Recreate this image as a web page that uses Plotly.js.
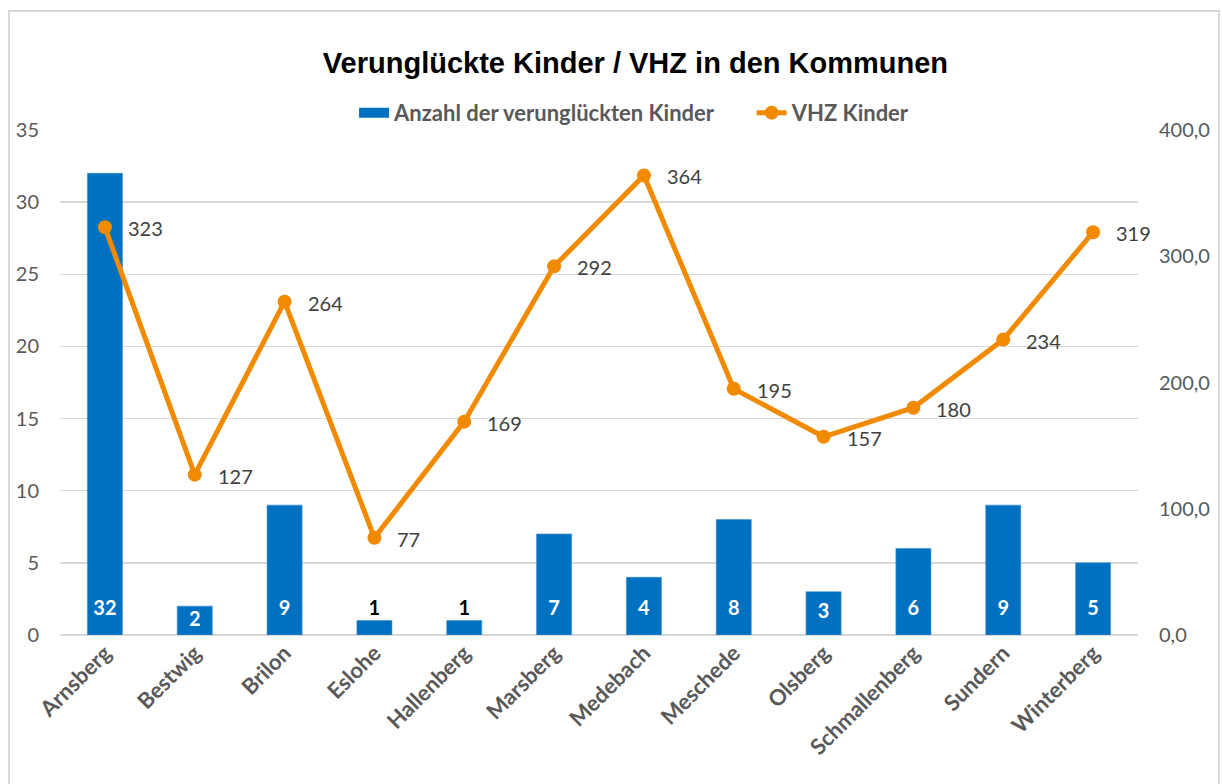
<!DOCTYPE html>
<html>
<head>
<meta charset="utf-8">
<script src="https://cdn.plot.ly/plotly-3.0.1.min.js"></script>
<style>
  html, body { margin: 0; padding: 0; background: #fff; overflow: hidden; }
  #chart { width: 1222px; height: 784px; }
  #frame { position: absolute; left: 8px; top: 10px; width: 1208px; height: 800px;
           border: 2px solid #d9d9d9; pointer-events: none; }
</style>
</head>
<body>
<div id="chart"></div>
<div id="frame"></div>
<script>
const categories = ["Arnsberg", "Bestwig", "Brilon", "Eslohe", "Hallenberg", "Marsberg",
                    "Medebach", "Meschede", "Olsberg", "Schmallenberg", "Sundern", "Winterberg"];
const accidents = [32, 2, 9, 1, 1, 7, 4, 8, 3, 6, 9, 5];
const vhz = [323, 127, 264, 77, 169, 292, 364, 195, 157, 180, 234, 319];
const leftTicks = [0, 5, 10, 15, 20, 25, 30, 35];
const rightTicks = [0, 100, 200, 300, 400];
const seriesNames = ["Anzahl der verunglückten Kinder", "VHZ Kinder"];

const blue = "#0070C0";
const orange = "#F28A00";
const gray = "#595959";
const font = "Lato, 'Open Sans', sans-serif";
const pad = "\u00A0\u00A0\u00A0\u00A0\u00A0\u00A0";

// bar value labels: inside near the base, outside for very small bars
const labelY = accidents.map(v => v >= 2 ? Math.min(v / 2, 1.75) : v + 0.75);
const labelColor = accidents.map(v => v >= 2 ? "#ffffff" : "#000000");

const traces = [
  {
    type: "bar", name: seriesNames[0], showlegend: false,
    x: categories, y: accidents, width: 0.39,
    marker: { color: blue, line: { color: "#3d8fd0", width: 0.6 } },
    hoverinfo: "x+y", xaxis: "x", yaxis: "y"
  },
  {
    // legend entry for the bars (wide rectangular swatch)
    type: "scatter", mode: "lines", name: seriesNames[0] + pad,
    x: [null], y: [null], line: { color: blue, width: 14 },
    hoverinfo: "skip", xaxis: "x", yaxis: "y"
  },
  {
    type: "scatter", mode: "text", showlegend: false, hoverinfo: "skip",
    x: categories, y: labelY, text: accidents.map(String),
    textposition: "middle center",
    textfont: { family: font, size: 20, color: labelColor, weight: "bold" },
    xaxis: "x", yaxis: "y"
  },
  {
    type: "scatter", mode: "lines+markers", name: seriesNames[1],
    x: categories, y: vhz,
    line: { color: orange, width: 5 },
    marker: { color: orange, size: 14 },
    xaxis: "x", yaxis: "y2"
  }
];

const annotations = categories.map((c, i) => ({
  x: c, y: vhz[i], xref: "x", yref: "y2",
  text: String(vhz[i]), showarrow: false,
  xanchor: "left", yanchor: "middle", xshift: 21, yshift: -1,
  font: { family: font, size: 20, color: "#404040" }
}));

const layout = {
  width: 1222, height: 784,
  paper_bgcolor: "#ffffff", plot_bgcolor: "#ffffff",
  margin: { l: 60, r: 84, t: 130, b: 149 },
  separators: ",.",
  bargap: 0.61,
  title: {
    text: "<b>Verunglückte Kinder / VHZ in den Kommunen</b>",
    font: { family: "'Liberation Sans', Arial, sans-serif", size: 29, color: "#000000" },
    x: 0.52, xref: "container", xanchor: "center",
    y: 0.92, yref: "container", yanchor: "middle"
  },
  showlegend: true,
  legend: {
    orientation: "h", x: 0.533, xanchor: "center", y: 1.034, yanchor: "middle",
    font: { family: font, size: 22, color: gray, weight: "bold" },
    bgcolor: "rgba(0,0,0,0)", traceorder: "normal"
  },
  xaxis: {
    type: "category", tickangle: -45, range: [-0.5, 11.5],
    tickfont: { family: font, size: 22, color: gray, weight: "bold" },
    showgrid: false, zeroline: false, showline: false, ticks: ""
  },
  yaxis: {
    range: [0, 35], tickvals: leftTicks,
    tickfont: { family: font, size: 20, color: gray },
    showgrid: true, gridcolor: "#d9d9d9", gridwidth: 1.5,
    zeroline: true, zerolinecolor: "#d9d9d9", zerolinewidth: 1.5,
    showline: false, ticks: "", ticklabelstandoff: 20
  },
  yaxis2: {
    range: [0, 400], tickvals: rightTicks, tickformat: ".1f",
    overlaying: "y", side: "right",
    tickfont: { family: font, size: 20, color: gray },
    showgrid: false, zeroline: false, showline: false, ticks: "", ticklabelstandoff: 20
  },
  annotations: annotations
};

Plotly.newPlot("chart", traces, layout, { displayModeBar: false, staticPlot: true });
</script>
</body>
</html>
